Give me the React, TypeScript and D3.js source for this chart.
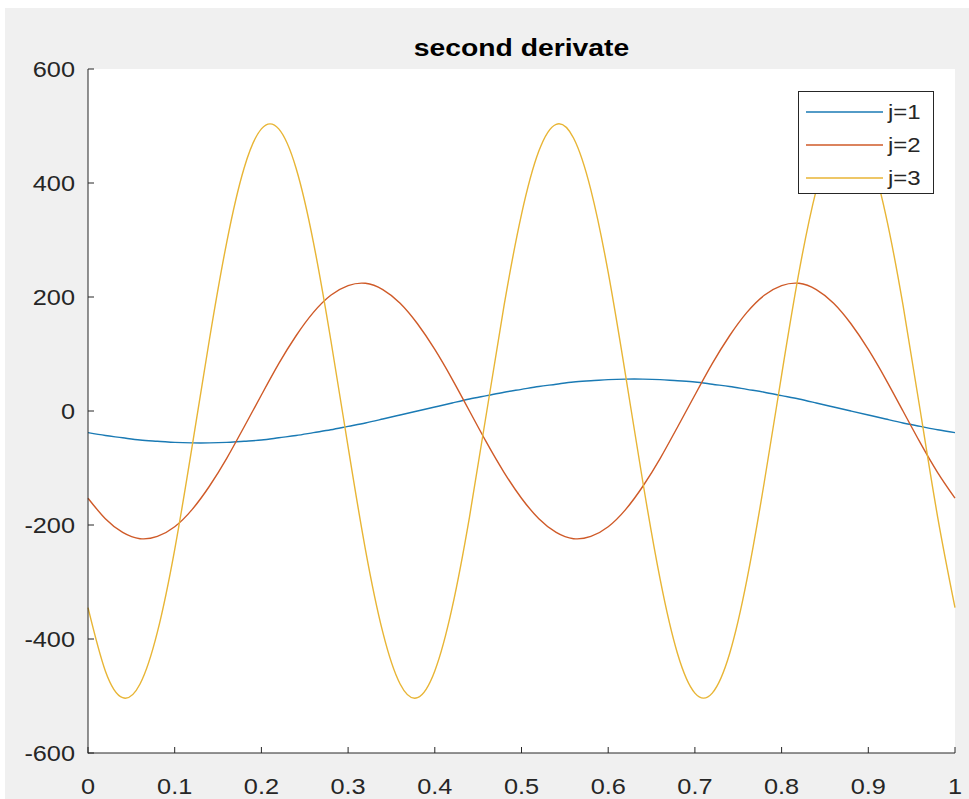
import * as d3 from 'd3';
import React, { useRef, useEffect } from 'react';

// values, x step 0.02
const xs = d3.range(0, 51).map((i) => i / 50);

const j1 = [
    -38, -43, -47, -51, -53, -55, -56, -56, -55, -53, -51, -47, -43, -38, -33, -27, -21, -14, -7, 0,
    7, 14, 21, 27, 33, 38, 43, 47, 51, 53, 55, 56, 56, 55, 53, 51, 47, 43, 38, 33,
    27, 21, 14, 7, 0, -7, -14, -21, -27, -33, -38,
];

const j2 = [
    -153, -189, -213, -224, -220, -203, -173, -132, -83, -28, 28, 83, 132, 173, 203, 220, 224, 213, 189, 153,
    108, 56, 0, -56, -108, -153, -189, -213, -224, -220, -203, -173, -132, -83, -28, 28, 83, 132, 173, 203,
    220, 224, 213, 189, 153, 108, 56, 0, -56, -108, -153,
];

const j3 = [
    -345, -456, -503, -479, -388, -243, -63, 125, 296, 426, 495, 495, 426, 296, 125, -63, -243, -388, -479, -503,
    -456, -345, -186, 0, 186, 345, 456, 503, 479, 388, 243, 63, -125, -296, -426, -495, -495, -426, -296, -125,
    63, 243, 388, 479, 503, 456, 345, 186, 0, -186, -345,
];

const seriesNames = ['j=1', 'j=2', 'j=3'];
const seriesValues = [j1, j2, j3];
const seriesColors = ['#1a7ab4', '#cf5a28', '#e8b535'];

const xTicks = [0, 0.1, 0.2, 0.3, 0.4, 0.5, 0.6, 0.7, 0.8, 0.9, 1];
const yTicks = [-600, -400, -200, 0, 200, 400, 600];

const App = () => {
    const svgRef = useRef<SVGSVGElement>(null);

    useEffect(() => {
        document.body.style.margin = '0';
        const svg = d3.select(svgRef.current);
        svg.selectAll('*').remove();

        const W = 969;
        const H = 799;
        const plot = { left: 88, right: 955, top: 69, bottom: 753 };
        const axisColor = '#262626';
        const font = 'Liberation Sans, Arial, sans-serif';

        svg.append('rect').attr('x', 0).attr('y', 0).attr('width', W).attr('height', H).attr('fill', '#ffffff');
        svg.append('rect').attr('x', 5).attr('y', 8).attr('width', W - 5).attr('height', H - 8).attr('fill', '#f0f0f0');

        const x = d3.scaleLinear().domain([0, 1]).range([plot.left, plot.right]);
        const y = d3.scaleLinear().domain([-600, 600]).range([plot.bottom, plot.top]);

        svg.append('rect')
            .attr('x', plot.left)
            .attr('y', plot.top)
            .attr('width', plot.right - plot.left)
            .attr('height', plot.bottom - plot.top)
            .attr('fill', '#ffffff');

        // lines
        const line = d3
            .line<number>()
            .x((d, i) => x(xs[i]))
            .y((d) => y(d))
            .curve(d3.curveNatural);

        const gLines = svg.append('g').attr('class', 'lines');
        seriesValues.forEach((vals, k) => {
            gLines.append('path')
                .attr('d', line(vals))
                .attr('fill', 'none')
                .attr('stroke', seriesColors[k])
                .attr('stroke-width', 1.4);
        });

        // axes (left + bottom, ticks inward)
        const gAxis = svg.append('g').attr('class', 'axes');
        gAxis.append('line')
            .attr('x1', plot.left).attr('x2', plot.left)
            .attr('y1', plot.top).attr('y2', plot.bottom + 0.5)
            .attr('stroke', axisColor);
        gAxis.append('line')
            .attr('x1', plot.left).attr('x2', plot.right)
            .attr('y1', plot.bottom).attr('y2', plot.bottom)
            .attr('stroke', axisColor);

        xTicks.forEach((t) => {
            gAxis.append('line')
                .attr('x1', x(t)).attr('x2', x(t))
                .attr('y1', plot.bottom).attr('y2', plot.bottom - 6)
                .attr('stroke', axisColor);
            gAxis.append('text')
                .attr('transform', `translate(${x(t)}, 794) scale(1.15, 1)`)
                .attr('text-anchor', 'middle')
                .attr('font-family', font)
                .attr('font-size', 22)
                .attr('fill', axisColor)
                .text(String(t));
        });

        yTicks.forEach((t) => {
            gAxis.append('line')
                .attr('x1', plot.left).attr('x2', plot.left + 6)
                .attr('y1', y(t)).attr('y2', y(t))
                .attr('stroke', axisColor);
            gAxis.append('text')
                .attr('transform', `translate(75, ${y(t) + 8}) scale(1.15, 1)`)
                .attr('text-anchor', 'end')
                .attr('font-family', font)
                .attr('font-size', 22)
                .attr('fill', axisColor)
                .text(String(t));
        });

        // title
        svg.append('text')
            .attr('transform', `translate(${(plot.left + plot.right) / 2}, 56) scale(1.18, 1)`)
            .attr('text-anchor', 'middle')
            .attr('font-family', font)
            .attr('font-weight', 'bold')
            .attr('font-size', 24)
            .attr('fill', '#000000')
            .text('second derivate');

        // legend
        const gLegend = svg.append('g').attr('class', 'legend');
        gLegend.append('rect')
            .attr('x', 798.5).attr('y', 91.5)
            .attr('width', 135).attr('height', 102)
            .attr('fill', '#ffffff')
            .attr('stroke', axisColor);
        seriesNames.forEach((name, k) => {
            const ly = 112 + k * 33;
            gLegend.append('line')
                .attr('x1', 806).attr('x2', 883)
                .attr('y1', ly).attr('y2', ly)
                .attr('stroke', seriesColors[k])
                .attr('stroke-width', 1.4);
            gLegend.append('text')
                .attr('transform', `translate(888, ${ly + 7}) scale(1.2, 1)`)
                .attr('font-family', font)
                .attr('font-size', 20)
                .attr('fill', axisColor)
                .text(name);
        });
    }, []);

    return <svg ref={svgRef} width={969} height={799} style={{ display: 'block' }} />;
};

export default App;
